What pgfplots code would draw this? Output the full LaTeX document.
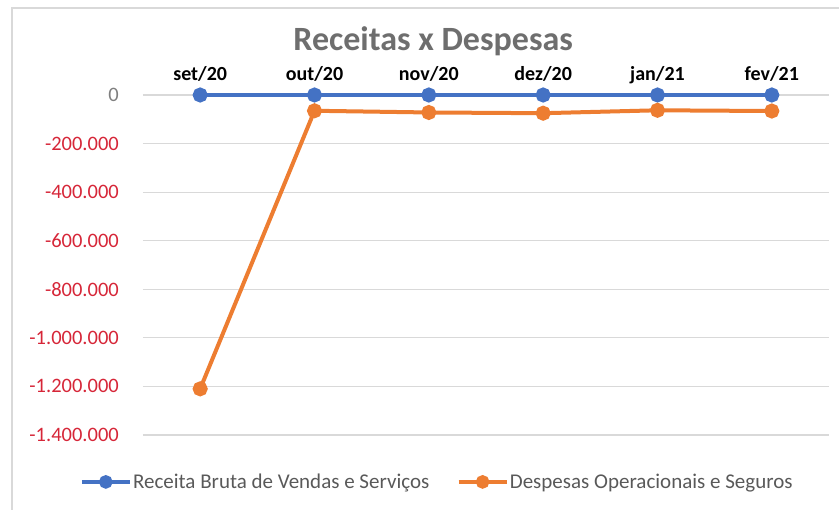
\documentclass[border=0pt]{standalone}
\usepackage{pgfplots}
\pgfplotsset{compat=1.18}
\usepackage{fontspec}
\setmainfont{Carlito}
\definecolor{cblue}{HTML}{4472C4}
\definecolor{corange}{HTML}{ED7D31}
\definecolor{cred}{RGB}{214,38,56}
\definecolor{cgrid}{HTML}{D9D9D9}
\definecolor{ctitle}{HTML}{6E6E6E}
\definecolor{clegend}{HTML}{595959}
\definecolor{czero}{HTML}{7F7F7F}
\begin{document}
\begin{tikzpicture}[x=1pt,y=1pt]
\useasboundingbox (0,0) rectangle (839,510);
\draw[cgrid, line width=1.2pt] (12,-5) -- (12,502) -- (845,502);
\begin{axis}[
 at={(143pt,75pt)}, anchor=south west,
 scale only axis, width=686pt, height=340pt,
 xmin=-0.5, xmax=5.5, ymin=-1400000, ymax=0,
 clip=false,
 axis line style={draw=none},
 major tick length=0pt,
 xtick={0,...,5},
 xticklabels={set/20,out/20,nov/20,dez/20,jan/21,fev/21},
 xticklabel pos=upper,
 xticklabel style={font=\fontsize{20}{24}\selectfont\bfseries, text=black, anchor=base, inner sep=0pt, yshift=14pt},
 ytick={-1400000,-1200000,-1000000,-800000,-600000,-400000,-200000,0},
 yticklabels={\textcolor{cred}{-1.400.000},\textcolor{cred}{-1.200.000},\textcolor{cred}{-1.000.000},\textcolor{cred}{-800.000},\textcolor{cred}{-600.000},\textcolor{cred}{-400.000},\textcolor{cred}{-200.000},\textcolor{czero}{0}},
 ymajorgrids, grid style={cgrid, line width=1.2pt},
 yticklabel style={font=\fontsize{20.5}{24}\selectfont, anchor=east, inner sep=0pt, xshift=-24pt},
 scaled y ticks=false,
 title={Receitas x Despesas},
 title style={at={(0.423,1.112)}, anchor=base, font=\fontsize{34}{40}\selectfont\bfseries, text=ctitle},
 legend columns=2,
 legend style={at={(0.428,-0.138)}, anchor=center, draw=none, fill=none, font=\fontsize{21}{25}\selectfont, text=clegend, nodes={inner sep=1pt}, /tikz/every even column/.append style={column sep=26pt}},
 legend image code/.code={\draw[line width=4.5pt, mark repeat=2,mark phase=2, mark size=4.5pt] plot coordinates {(0pt,0pt) (24pt,0pt) (48pt,0pt)};},
]
\addplot[color=cblue, line width=4pt, mark=*, mark size=5.5pt, mark options={solid}] coordinates {(0,0) (1,0) (2,0) (3,0) (4,0) (5,0)};
\addlegendentry{Receita Bruta de Vendas e Serviços}
\addplot[color=corange, line width=4pt, mark=*, mark size=5.5pt, mark options={solid}] coordinates {(0,-1210000) (1,-65000) (2,-72000) (3,-75000) (4,-63000) (5,-66000)};
\addlegendentry{Despesas Operacionais e Seguros}
\end{axis}
\end{tikzpicture}
\end{document}
